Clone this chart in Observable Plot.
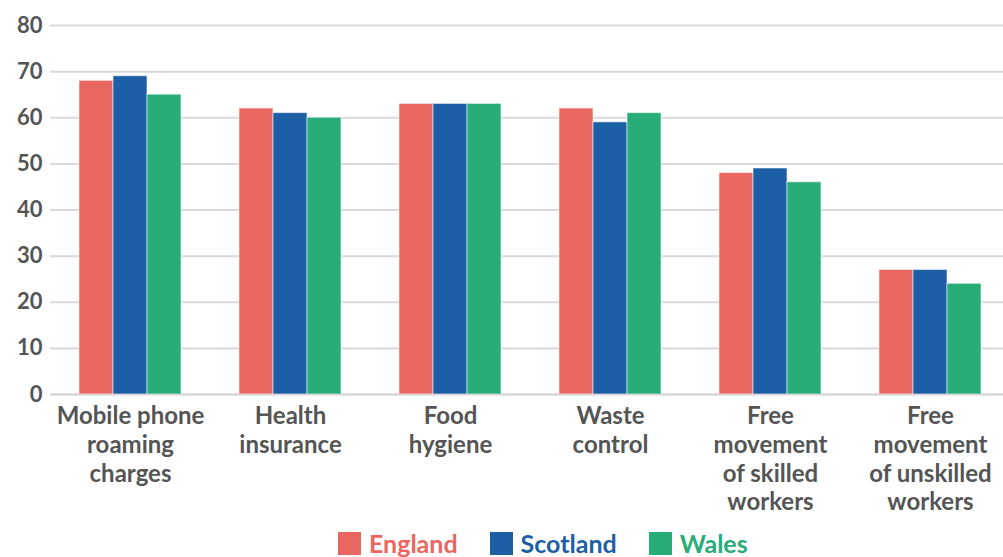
<!DOCTYPE html>
<html>
<head>
<meta charset="utf-8">
<script src="https://cdn.jsdelivr.net/npm/d3@7"></script>
<script src="https://cdn.jsdelivr.net/npm/@observablehq/plot@0.6"></script>
<style>
  html, body { margin: 0; padding: 0; background: #fff; overflow: hidden; }
  body { width: 1003px; height: 557px; font-family: Lato, "Open Sans", sans-serif; }
  #legend { display: flex; align-items: center; height: 37px; padding-left: 338px; padding-top: 9px; box-sizing: border-box; }
  .item { display: flex; align-items: center; margin-right: 32px; font-weight: bold; font-size: 25px; }
  .sw { width: 23px; height: 23px; margin-right: 8px; }
</style>
</head>
<body>
<div id="chart"></div>
<div id="legend"></div>
<script>
const categories = [
  "Mobile phone\nroaming\ncharges",
  "Health\ninsurance",
  "Food\nhygiene",
  "Waste\ncontrol",
  "Free\nmovement\nof skilled\nworkers",
  "Free\nmovement\nof unskilled\nworkers"
];
const countries = ["England", "Scotland", "Wales"];
const colors = ["#EA6661", "#1D5FA5", "#28AD78"];
const england = [68, 62, 63, 62, 48, 27];
const scotland = [69, 61, 63, 59, 49, 27];
const wales = [65, 60, 63, 61, 46, 24];
const yTicks = [0, 10, 20, 30, 40, 50, 60, 70, 80];

const series = [england, scotland, wales];
const data = [];
categories.forEach((c, i) => countries.forEach((k, j) => data.push({category: c, country: k, value: series[j][i]})));

const textColor = "#555555";

const chart = Plot.plot({
  width: 1003,
  height: 520,
  marginLeft: 50,
  marginRight: 0,
  marginTop: 25,
  marginBottom: 126,
  style: {fontFamily: "Lato, 'Open Sans', sans-serif", background: "#fff"},
  fx: {domain: categories, range: [50, 1010], paddingInner: 0.35, paddingOuter: 0.175, label: null},
  x: {domain: countries, padding: 0, axis: null},
  y: {domain: [0, 80], label: null},
  color: {domain: countries, range: colors},
  marks: [
    Plot.ruleY(yTicks.filter(d => d > 0), {stroke: "#d9d9d9", strokeWidth: 2, insetLeft: -28, insetRight: -28}),
    Plot.ruleY([0], {stroke: "#cfcfcf", strokeWidth: 2, insetLeft: -28, insetRight: -28}),
    Plot.barY(data, {fx: "category", x: "country", y: "value", fill: "country", stroke: "#ffffff", strokeOpacity: 0.55, strokeWidth: 1}),
    Plot.axisY({ticks: yTicks, tickSize: 0, tickPadding: 36, fontSize: 22, fontWeight: "bold", fill: textColor, label: null}),
    Plot.axisFx({anchor: "bottom", tickSize: 0, tickPadding: 9, fontSize: 24, fontWeight: "bold", fill: textColor, lineHeight: 1.2, label: null})
  ]
});
document.getElementById("chart").appendChild(chart);

const legend = document.getElementById("legend");
countries.forEach((k, j) => {
  const item = document.createElement("div");
  item.className = "item";
  item.style.color = colors[j];
  const sw = document.createElement("div");
  sw.className = "sw";
  sw.style.background = colors[j];
  item.appendChild(sw);
  item.appendChild(document.createTextNode(k));
  legend.appendChild(item);
});
</script>
</body>
</html>
